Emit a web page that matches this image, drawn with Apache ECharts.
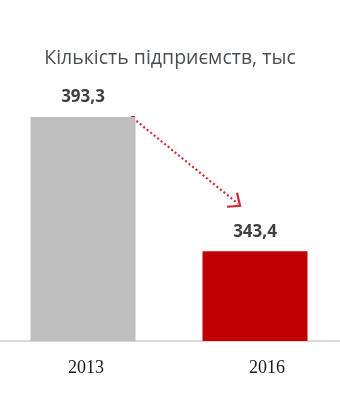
<!DOCTYPE html>
<html>
<head>
<meta charset="utf-8">
<script src="https://cdn.jsdelivr.net/npm/echarts@6/dist/echarts.min.js"></script>
<style>html,body{margin:0;padding:0;background:#fff}#c{width:340px;height:405px}</style>
</head>
<body>
<div id="c"></div>
<script>
const title = 'Кількість підприємств, тыс';
const categories = ['2013', '2016'];
const values = [393.3, 343.4];
const barColors = ['#bfbfbf', '#c00000'];
const valueLabels = ['393,3', '343,4'];
// arrow: from first bar top to a point left-above second bar
const arrowFrom = [0, 393.3];
const arrowTo = [1, 360.3];

const chart = echarts.init(document.getElementById('c'), null, {renderer: 'canvas'});
chart.setOption({
  animation: false,
  title: {
    text: title, left: 165, top: 43, textAlign: 'center',
    textStyle: {fontFamily: 'Open Sans', fontSize: 19.5, fontWeight: 'normal', color: '#4a4f55'}
  },
  grid: {left: -3, right: -1, top: 99, bottom: 64, outerBoundsMode: 'none', containLabel: false},
  xAxis: {
    type: 'category', data: categories,
    axisLine: {lineStyle: {color: '#d9d9d9', width: 2}},
    axisTick: {show: false},
    axisLabel: {
      margin: 18,
      formatter: (v, i) => i === 0 ? '{a|' + v + '}' : '{b|' + v + '}',
      rich: {
        a: {fontFamily: 'Liberation Serif', fontSize: 18, color: '#1a1a1a', padding: [0, 0, 0, 6]},
        b: {fontFamily: 'Liberation Serif', fontSize: 18, color: '#1a1a1a', padding: [0, 0, 0, 24]}
      }
    }
  },
  yAxis: {type: 'value', min: 310, max: 400, show: false, splitLine: {show: false}},
  series: [{
    type: 'bar', barWidth: 105,
    data: values.map((v, i) => ({value: v, itemStyle: {color: barColors[i]}})),
    label: {
      show: true, position: 'top', distance: 11,
      formatter: p => valueLabels[p.dataIndex],
      fontFamily: 'Open Sans', fontSize: 17, fontWeight: 'bold', color: '#404040'
    }
  }, {
    type: 'custom',
    data: [[arrowFrom[0], arrowFrom[1], arrowTo[0], arrowTo[1]]],
    renderItem: function (params, api) {
      const band = api.size([1, 0])[0];
      const s = api.coord([api.value(0), api.value(1)]);
      const e = api.coord([api.value(2), api.value(3)]);
      const sx = s[0] + band * 0.29, sy = s[1] + 1;
      const ex = e[0] - band * 0.087, ey = e[1];
      return {
        type: 'group',
        children: [
          {type: 'rect', shape: {x: sx - 2, y: sy - 2, width: 4, height: 4}, style: {fill: '#d01c24'}},
          {type: 'line', shape: {x1: sx, y1: sy, x2: ex - 2, y2: ey - 2},
           style: {stroke: '#d7262e', lineWidth: 2.2, lineDash: [2, 2.5]}},
          {type: 'polyline', shape: {points: [[ex - 3, ey - 13], [ex, ey], [ex - 13, ey + 1]]},
           style: {stroke: '#d7262e', lineWidth: 2.2, fill: null}}
        ]
      };
    }
  }]
});
</script>
</body>
</html>
